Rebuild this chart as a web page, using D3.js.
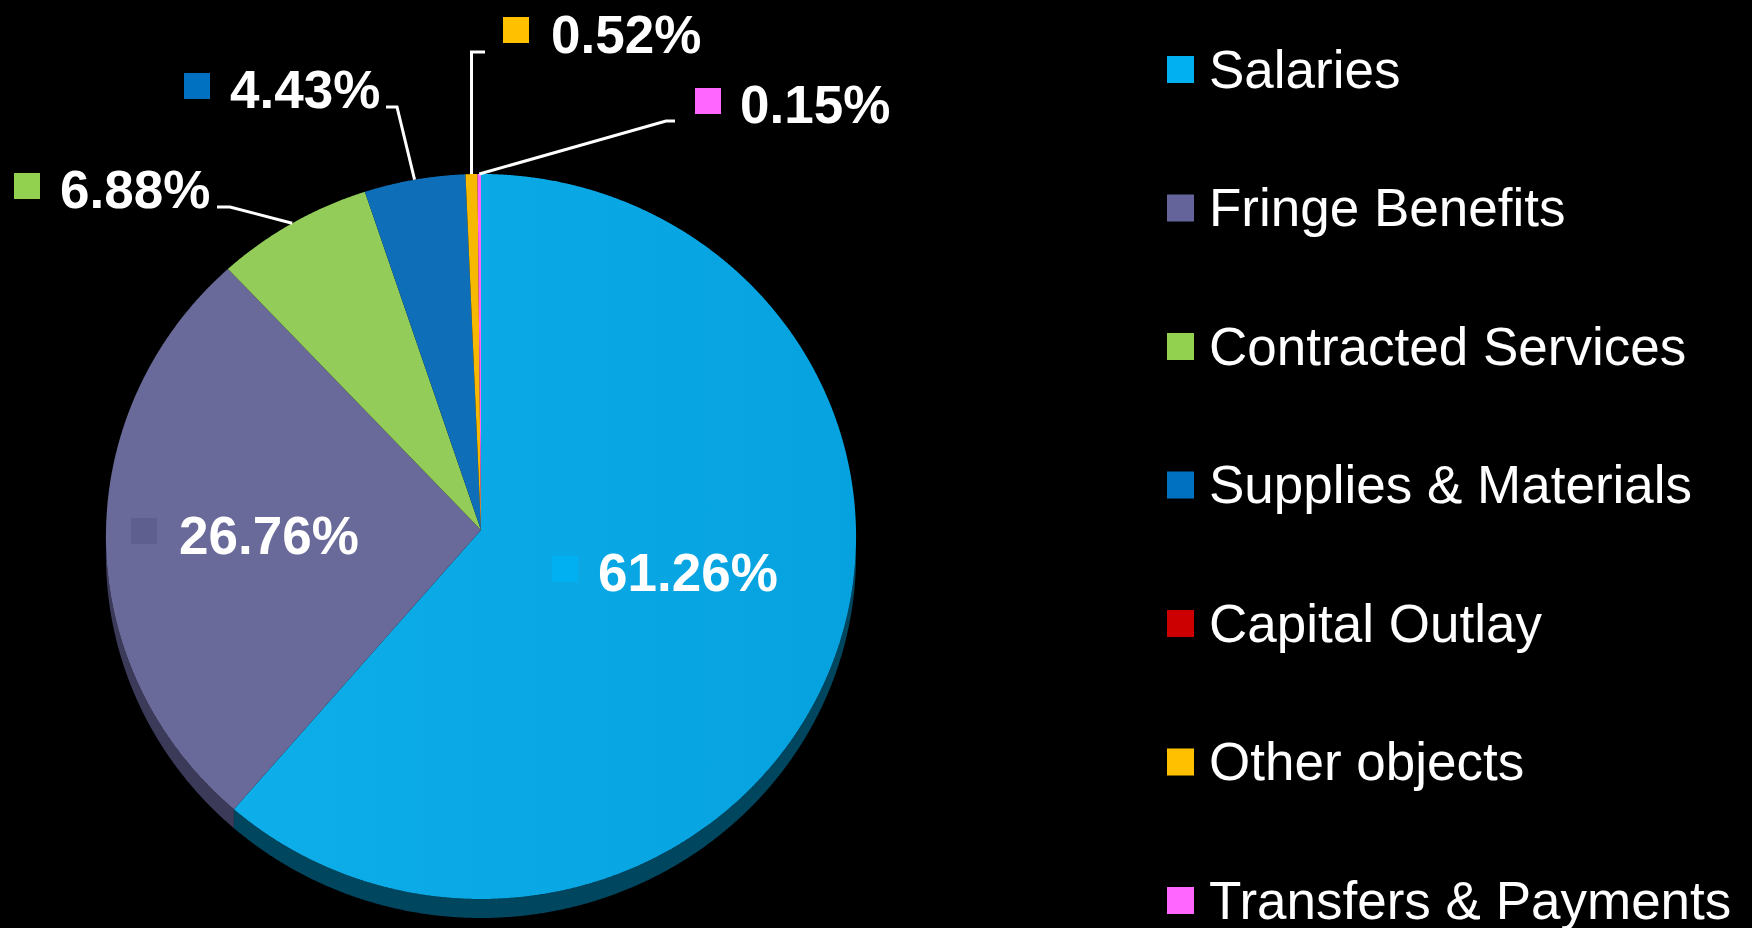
<!DOCTYPE html>
<html><head><meta charset="utf-8">
<script src="https://cdn.jsdelivr.net/npm/d3@7"></script>
<style>html,body{margin:0;padding:0;background:#000;overflow:hidden;} svg{display:block;}</style>
</head><body>
<svg id="chart" width="1752" height="928"></svg>
<script>
// ---- data ----
const categories = ["Salaries","Fringe Benefits","Contracted Services","Supplies & Materials","Capital Outlay","Other objects","Transfers & Payments"];
const values = [61.26, 26.76, 6.88, 4.43, 0, 0.52, 0.15];
const labelTexts = ["61.26%","26.76%","6.88%","4.43%","","0.52%","0.15%"];
const legendColors = ["#00B0F0","#64649A","#92D050","#0070C0","#CC0000","#FFC000","#FF66FF"];
const sliceColors  = ["#0AA9E6","#6A6A9A","#93CC58","#0E6FB8","#C00000","#F6B900","#FF66FF"];
const rimColors    = ["#01465F","#3B3A59","#4A6A2A","#07385C","#600000","#7A5C00","#803380"];

// ---- layout ----
const W = 1752, H = 928;
const cx = 481, cy = 530, RX = 375, RY = 362.4, K = -0.0179, DEPTH = 19;
const svg = d3.select("#chart");
svg.append("rect").attr("width", W).attr("height", H).attr("fill", "#000");

function proj(theta, r) {
  const u = r * Math.sin(theta), v = -r * Math.cos(theta);
  const s = 1 / (1 + K * v);
  return [cx + RX * u * s, cy + RY * v * s];
}

const pie = d3.pie().sort(null).value(d => d)(values);
const line = d3.line();
const STEP = Math.PI / 900;

function arcPoints(a0, a1, r) {
  const pts = [];
  const n = Math.max(2, Math.ceil((a1 - a0) / STEP));
  for (let i = 0; i <= n; i++) pts.push(proj(a0 + (a1 - a0) * i / n, r));
  return pts;
}

const defs = svg.append("defs");
const g0 = defs.append("linearGradient").attr("id", "gSal").attr("x1", "0").attr("x2", "1").attr("y1", "0").attr("y2", "0");
g0.append("stop").attr("offset", "0").attr("stop-color", "#0DAEE9");
g0.append("stop").attr("offset", "1").attr("stop-color", "#06A2E0");

// side walls (front half only: angles PI/2 .. 3PI/2)
const walls = svg.append("g");
pie.forEach((p, i) => {
  const a0 = Math.max(p.startAngle, Math.PI / 2), a1 = Math.min(p.endAngle, 3 * Math.PI / 2);
  if (a1 <= a0) return;
  const top = arcPoints(a0, a1, 1);
  const bottom = top.map(([x, y]) => [x, y + DEPTH]).reverse();
  walls.append("path").attr("d", line(top.concat(bottom)) + "Z").attr("fill", rimColors[i]);
});

// top surfaces
const slices = svg.append("g");
pie.forEach((p, i) => {
  if (p.endAngle - p.startAngle <= 0) return;
  const pts = [[cx, cy]].concat(arcPoints(p.startAngle, p.endAngle, 1));
  slices.append("path").attr("d", line(pts) + "Z")
    .attr("fill", i === 0 ? "url(#gSal)" : sliceColors[i]);
});

// data labels
const labelLayout = {
  0: {sq: [552, 556], tx: [598, 591], sqColor: "#00B0F0"},
  1: {sq: [131, 518], tx: [179, 554], sqColor: "#5F5F8F"},
  2: {sq: [14, 173], tx: [60, 208], leader: [[230, 207], [217, 207]]},
  3: {sq: [184, 73], tx: [230, 108], leader: [[397, 107], [386, 107]]},
  5: {sq: [503, 17], tx: [551, 53], leader: [[null, 52], [485, 52]]},
  6: {sq: [695, 88], tx: [740, 123], leader: [[666, 121], [675, 121]]}
};
const lab = svg.append("g");
Object.keys(labelLayout).forEach(k => {
  const i = +k, L = labelLayout[k], p = pie[i];
  if (L.leader) {
    const mid = (p.startAngle + p.endAngle) / 2;
    const s = proj(mid, 1.0);
    const pts = [s].concat(L.leader.map(([x, y]) => [x === null ? s[0] : x, y]));
    lab.append("path").attr("d", line(pts)).attr("fill", "none")
      .attr("stroke", "#fff").attr("stroke-width", 3).attr("stroke-linejoin", "miter");
  }
  lab.append("rect").attr("x", L.sq[0]).attr("y", L.sq[1]).attr("width", 26).attr("height", 26)
    .attr("fill", L.sqColor || legendColors[i]);
  lab.append("text").attr("x", L.tx[0]).attr("y", L.tx[1]).text(labelTexts[i])
    .attr("fill", "#fff").attr("font-family", "'Liberation Sans', Arial, sans-serif")
    .attr("font-weight", "bold").attr("font-size", 53);
});

// legend
const legend = svg.append("g");
const legendY = d3.scalePoint().domain(categories).range([69.5, 900.5]);
categories.forEach((c, i) => {
  const y = legendY(c);
  legend.append("rect").attr("x", 1167).attr("y", y - 13.5).attr("width", 27).attr("height", 27)
    .attr("fill", legendColors[i]);
  legend.append("text").attr("x", 1209).attr("y", y + 18).text(c)
    .attr("fill", "#fff").attr("font-family", "'Liberation Sans', Arial, sans-serif")
    .attr("font-size", 53);
});
</script>
</body></html>
